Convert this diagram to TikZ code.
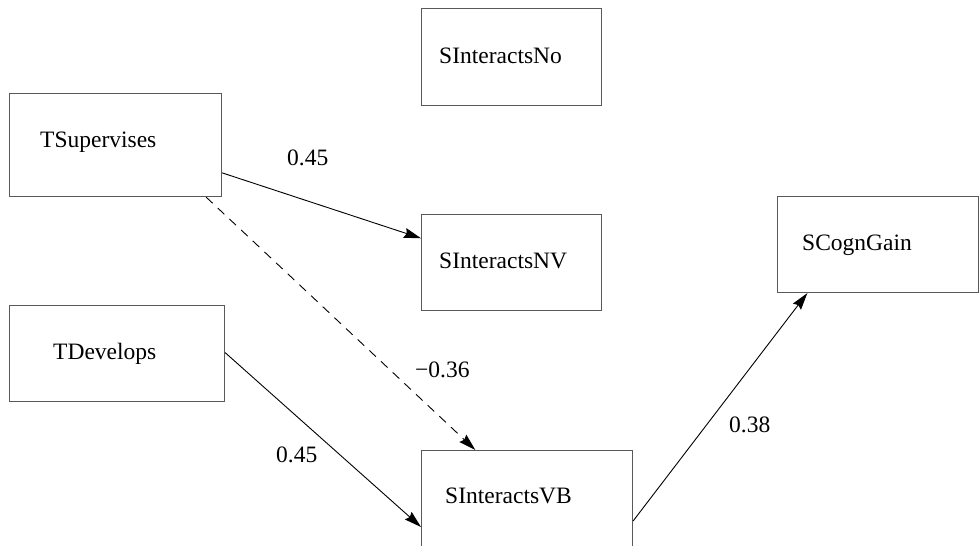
\documentclass[tikz,border=0pt]{standalone}
\usepackage{fontspec}
\setmainfont{Liberation Serif}
\usetikzlibrary{arrows.meta,calc}
\begin{document}
\begin{tikzpicture}[x=1pt,y=-1pt,
  box/.style={draw=black!65,line width=1.1pt,rectangle,inner sep=0pt,anchor=north west},
  lbl/.style={anchor=base west,inner sep=0pt,font=\fontsize{23.5}{28}\selectfont},
  conn/.style={line width=0.9pt,-{Stealth[length=17pt,width=10pt,inset=2pt]}}]
\useasboundingbox (0,0) rectangle (980,546);
\clip (0,0) rectangle (980,546);
\fill[white] (0,0) rectangle (980,546);
% boxes
\node[box,minimum width=180pt,minimum height=97pt] (sno) at (421,8) {};
\node[box,minimum width=212pt,minimum height=103pt] (ts) at (9,93) {};
\node[box,minimum width=180pt,minimum height=96pt] (snv) at (421,214) {};
\node[box,minimum width=201pt,minimum height=96pt] (scg) at (777,196) {};
\node[box,minimum width=215pt,minimum height=96pt] (td) at (9,305) {};
\node[box,minimum width=211pt,minimum height=115pt] (svb) at (421,450) {};
% texts
\node[lbl] (tsno) at (439,63) {SInteractsNo};
\node[lbl] (tts) at (40,147) {TSupervises};
\node[lbl] (tsnv) at (439,268) {SInteractsNV};
\node[lbl] (tscg) at (802,250) {SCognGain};
\node[lbl] (ttd) at (53,359) {TDevelops};
\node[lbl] (tsvb) at (445,503) {SInteractsVB};
% coefficient labels
\node[lbl] (l1) at (287,165) {0.45};
\node[lbl] (l2) at (415,377) {−0.36};
\node[lbl] (l3) at (276,462) {0.45};
\node[lbl] (l4) at (729,432) {0.38};
% connectors
\draw[conn] ($(ts.north east)!0.767!(ts.south east)$) -- ($(snv.north west)!0.25!(snv.south west)$);
\draw[conn,dashed,dash pattern=on 9pt off 7pt] ($(ts.south west)!0.925!(ts.south east)$) -- ($(svb.north west)!0.256!(svb.north east)$);
\draw[conn] ($(td.north east)!0.49!(td.south east)$) -- ([yshift=-77pt]svb.north west);
\draw[conn] ([yshift=-71pt]svb.north east) -- ($(scg.south west)!0.15!(scg.south east)$);
\end{tikzpicture}
\end{document}
